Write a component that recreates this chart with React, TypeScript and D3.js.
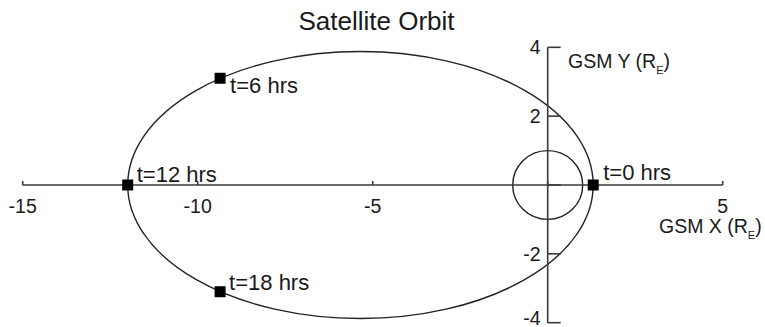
import React from "react";
import * as d3 from "d3";

// Axis extents and tick values (Earth radii)
const xDomain = [-15, 5];
const yDomain = [-4, 4];
const xTicks = [-15, -10, -5, 0, 5];
const yTicks = [-4, -2, 0, 2, 4];

// Orbit ellipse: centre, semi-axes (R_E)
const orbitCenter = [-5.35, 0];
const orbitSemiAxes = [6.65, 3.88];

// Earth
const earthRadius = 1;

// Satellite positions at given times
const markerTimes = [0, 6, 12, 18];
const markerX = [1.3, -9.36, -12, -9.36];
const markerY = [0, 3.1, 0, -3.1];
// label offsets (px) relative to each marker
const labelDx = [10, 10, 9, 9];
const labelDy = [-5, 15, -3, -2];

const W = 765;
const H = 327;
const FONT = "'Liberation Sans', Arial, Helvetica, sans-serif";
const INK = "#1a1a1a";
const AXIS = "#3a3a3a";

export default function App() {
  const x = d3.scaleLinear().domain(xDomain).range([22.7, 722.7]);
  const y = d3.scaleLinear().domain(yDomain).range([322.7, 47.3]);

  const x0 = x(0);
  const y0 = y(0);
  const markerSize = 11;
  const tickFont = 19.5;
  const axisFont = 19.5;

  return (
    <svg
      width={W}
      height={H}
      style={{ position: "absolute", left: 0, top: 0, background: "#fff" }}
      fontFamily={FONT}
    >
      {/* title */}
      <text x={376.5} y={29.5} textAnchor="middle" fontSize={26} fill={INK}>
        Satellite Orbit
      </text>

      {/* orbit */}
      <ellipse
        cx={x(orbitCenter[0])}
        cy={y(orbitCenter[1])}
        rx={x(orbitCenter[0] + orbitSemiAxes[0]) - x(orbitCenter[0])}
        ry={y(orbitCenter[1]) - y(orbitCenter[1] + orbitSemiAxes[1])}
        fill="none"
        stroke="#222"
        strokeWidth={1.4}
      />

      {/* Earth */}
      <ellipse
        cx={x0}
        cy={y0}
        rx={x(earthRadius) - x0}
        ry={y0 - y(earthRadius)}
        fill="none"
        stroke="#222"
        strokeWidth={1.4}
      />

      {/* x axis */}
      <line x1={x(xDomain[0])} x2={x(xDomain[1])} y1={y0} y2={y0} stroke={AXIS} strokeWidth={1.6} />
      {xTicks.map((t) => (
        <g key={"xt" + t}>
          <line x1={x(t)} x2={x(t)} y1={y0} y2={y0 - 4} stroke={AXIS} strokeWidth={1.6} />
          {t !== 0 && (
            <text x={x(t)} y={213} textAnchor="middle" fontSize={tickFont} fill={INK}>
              {t}
            </text>
          )}
        </g>
      ))}
      <text x={659} y={233} fontSize={axisFont} fill={INK}>
        GSM X (R
        <tspan fontSize={11} dy={6}>E</tspan>
        <tspan dy={-6}>)</tspan>
      </text>

      {/* y axis */}
      <line x1={x0} x2={x0} y1={y(yDomain[0])} y2={y(yDomain[1])} stroke={AXIS} strokeWidth={1.6} />
      {yTicks.map((t) => (
        <g key={"yt" + t}>
          <line x1={x0} x2={x0 + 13} y1={y(t)} y2={y(t)} stroke={AXIS} strokeWidth={1.6} />
          {t !== 0 && (
            <text
              x={x0 - 7}
              y={Math.min(y(t) + 0.36 * tickFont, 324.5)}
              textAnchor="end"
              fontSize={tickFont}
              fill={INK}
            >
              {t}
            </text>
          )}
        </g>
      ))}
      <text x={568} y={68} fontSize={axisFont} fill={INK}>
        GSM Y (R
        <tspan fontSize={11} dy={6}>E</tspan>
        <tspan dy={-6}>)</tspan>
      </text>

      {/* satellite markers */}
      {markerTimes.map((t, i) => {
        const px = x(markerX[i]);
        const py = y(markerY[i]);
        return (
          <g key={"m" + t}>
            <rect
              x={px - markerSize / 2}
              y={py - markerSize / 2}
              width={markerSize}
              height={markerSize}
              fill="#000"
            />
            <text x={px + labelDx[i]} y={py + labelDy[i]} fontSize={22} fill={INK}>
              {`t=${t} hrs`}
            </text>
          </g>
        );
      })}
    </svg>
  );
}
